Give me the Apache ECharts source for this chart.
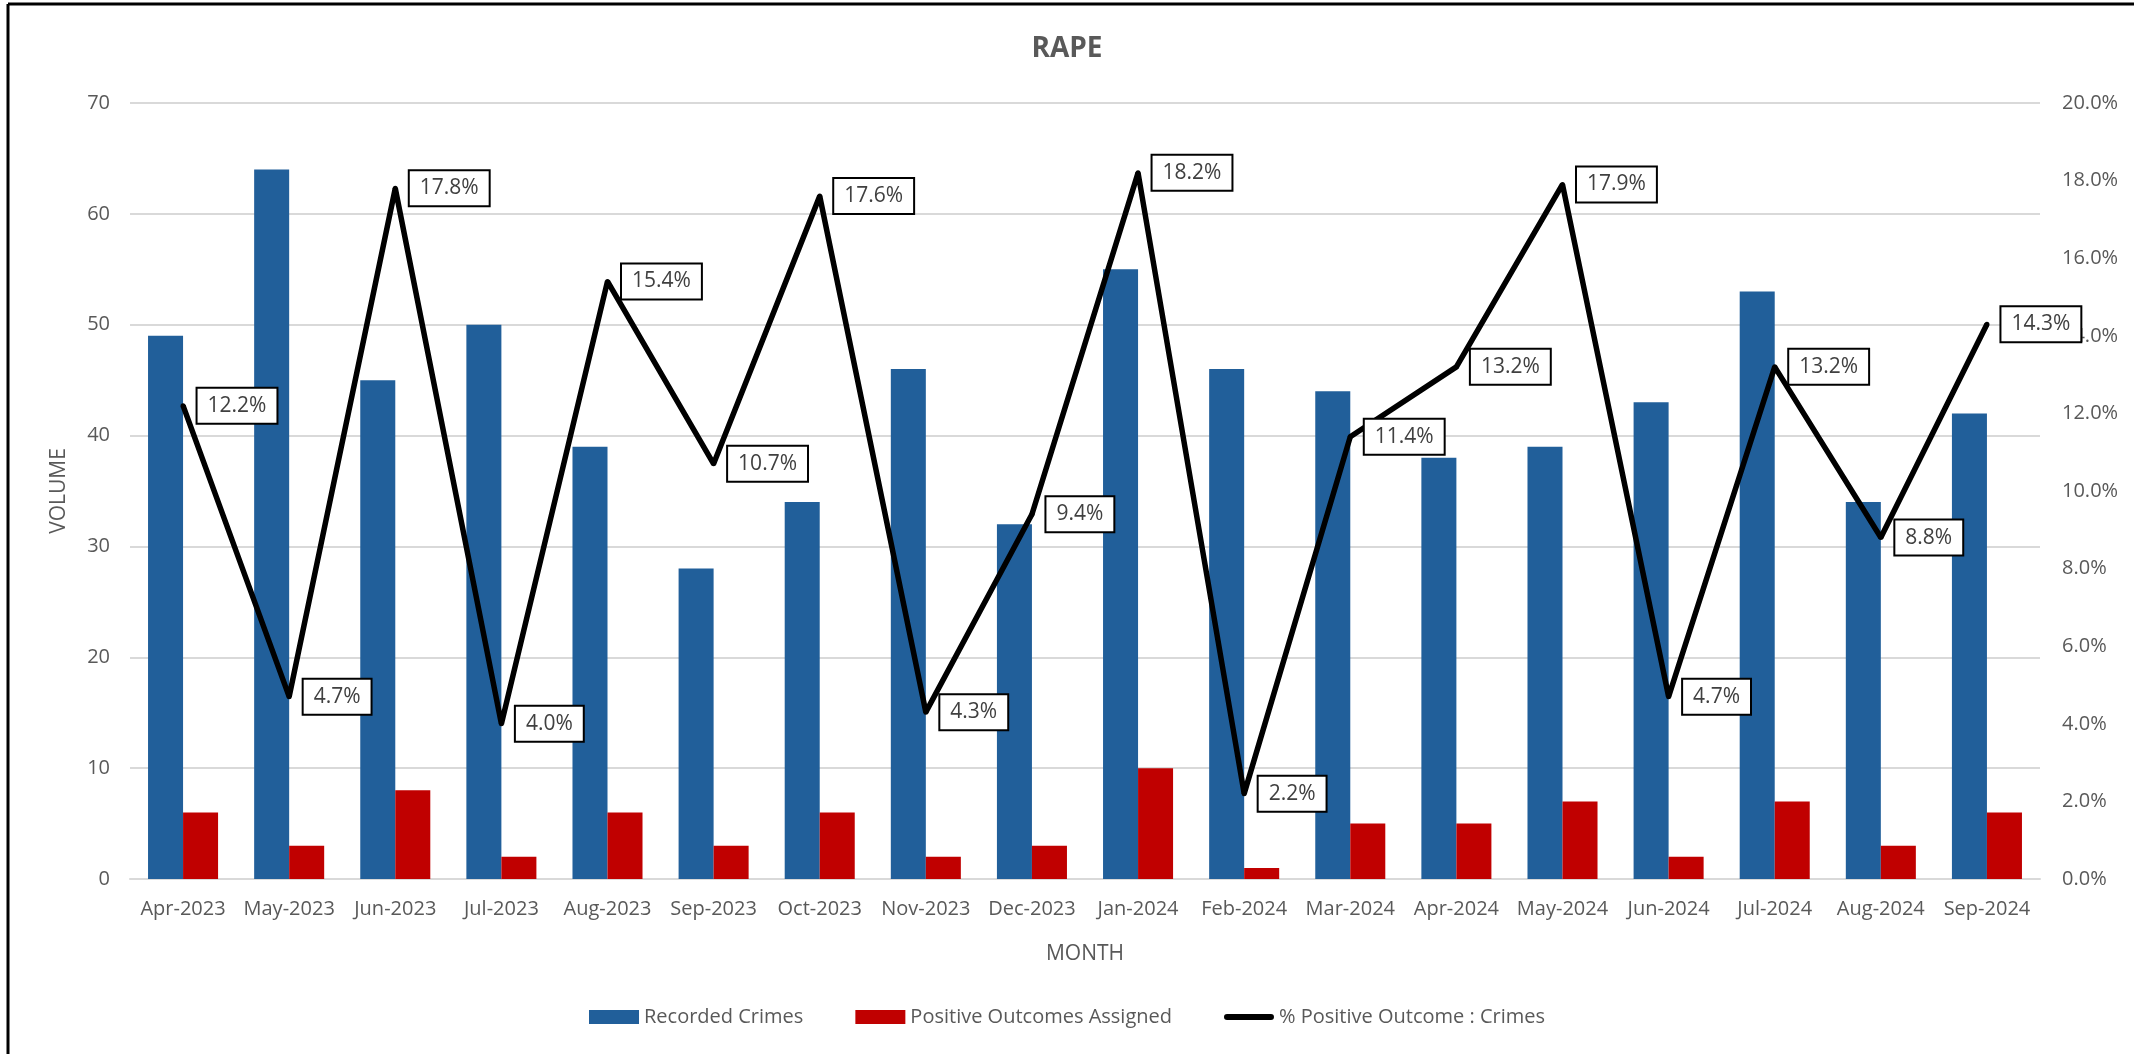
<!DOCTYPE html>
<html>
<head>
<meta charset="utf-8">
<script src="https://cdn.jsdelivr.net/npm/echarts@6/dist/echarts.min.js"></script>
<style>
  html, body { margin: 0; padding: 0; background: #fff; }
  #chart { width: 2134px; height: 1054px; }
</style>
</head>
<body>
<div id="chart"></div>
<script>
// month labels
const months = ['Apr-2023', 'May-2023', 'Jun-2023', 'Jul-2023', 'Aug-2023', 'Sep-2023', 'Oct-2023', 'Nov-2023', 'Dec-2023',
  'Jan-2024', 'Feb-2024', 'Mar-2024', 'Apr-2024', 'May-2024', 'Jun-2024', 'Jul-2024', 'Aug-2024', 'Sep-2024']
const recordedCrimes = [49, 64, 45, 50, 39, 28, 34, 46, 32, 55, 46, 44, 38, 39, 43, 53, 34, 42]
const positiveOutcomes = [6, 3, 8, 2, 6, 3, 6, 2, 3, 10, 1, 5, 5, 7, 2, 7, 3, 6]
// % positive outcome : crimes
const pctPositive = [12.2, 4.7, 17.8, 4.0, 15.4, 10.7, 17.6, 4.3, 9.4, 18.2, 2.2, 11.4, 13.2, 17.9, 4.7, 13.2, 8.8, 14.3]

const font = 'Open Sans'
const grey = '#595959'

const chart = echarts.init(document.getElementById('chart'))

const option = {
  backgroundColor: '#fff',
  textStyle: { fontFamily: font },
  title: {
    text: 'RAPE',
    left: 'center',
    top: 30,
    textStyle: { color: grey, fontSize: 28, fontWeight: 'bold', fontFamily: font }
  },
  grid: {
    left: 130,
    right: 94,
    top: 103,
    bottom: 175
  },
  legend: {
    bottom: 22,
    left: 'center',
    itemWidth: 50,
    itemHeight: 14,
    itemGap: 52,
    textStyle: { color: grey, fontSize: 20, fontFamily: font },
    data: [
      { name: 'Recorded Crimes', icon: 'rect' },
      { name: 'Positive Outcomes Assigned', icon: 'rect' },
      // thin bar so the line entry looks like a stroke
      { name: '% Positive Outcome : Crimes', icon: 'path://M3,0 L47,0 A3,3 0 0 1 47,6 L3,6 A3,3 0 0 1 3,0 Z' }
    ]
  },
  xAxis: [
    {
      type: 'category',
      data: months,
      name: 'MONTH',
      nameLocation: 'middle',
      nameGap: 65,
      nameTextStyle: { color: grey, fontSize: 21, fontFamily: font },
      axisTick: { show: false },
      axisLine: { lineStyle: { color: '#d9d9d9', width: 2 } },
      axisLabel: { color: grey, fontSize: 20, margin: 20, fontFamily: font, interval: 0 }
    }
  ],
  yAxis: [
    {
      type: 'value',
      min: 0,
      max: 70,
      interval: 10,
      name: 'VOLUME',
      nameLocation: 'middle',
      nameGap: 60,
      nameTextStyle: { color: grey, fontSize: 21, fontFamily: font },
      axisLabel: { color: grey, fontSize: 20, margin: 20, fontFamily: font },
      axisLine: { show: false },
      axisTick: { show: false },
      splitLine: { lineStyle: { color: '#d9d9d9', width: 2 } }
    },
    {
      type: 'value',
      min: 0,
      max: 20,
      interval: 2,
      axisLabel: {
        color: grey,
        fontSize: 20,
        margin: 22,
        fontFamily: font,
        formatter: function (v) { return v.toFixed(1) + '%' }
      },
      axisLine: { show: false },
      axisTick: { show: false },
      splitLine: { show: false }
    }
  ],
  series: [
    {
      name: 'Recorded Crimes',
      type: 'bar',
      barGap: '0%',
      barCategoryGap: '34%',
      itemStyle: { color: '#215F9A' },
      data: recordedCrimes
    },
    {
      name: 'Positive Outcomes Assigned',
      type: 'bar',
      itemStyle: { color: '#C00000' },
      data: positiveOutcomes
    },
    {
      name: '% Positive Outcome : Crimes',
      type: 'line',
      yAxisIndex: 1,
      symbol: 'circle',
      symbolSize: 5,
      showSymbol: true,
      z: 5,
      lineStyle: { color: '#000', width: 5.5 },
      itemStyle: { color: '#000' },
      labelLayout: { hideOverlap: false },
      label: {
        show: true,
        position: 'right',
        distance: 12,
        color: '#404040',
        fontSize: 21,
        fontFamily: font,
        backgroundColor: '#fff',
        borderColor: '#000',
        borderWidth: 2,
        padding: [7, 10, 6, 10],
        formatter: function (p) { return p.value.toFixed(1) + '%' }
      },
      data: pctPositive
    }
  ],
  // chart outline (only the left and top edges show in the original)
  graphic: [
    { type: 'line', shape: { x1: 8, y1: 4, x2: 8, y2: 1054 }, style: { stroke: '#000', lineWidth: 3 } },
    { type: 'line', shape: { x1: 8, y1: 4, x2: 2134, y2: 4 }, style: { stroke: '#000', lineWidth: 3 } }
  ]
}

chart.setOption(option)
</script>
</body>
</html>
